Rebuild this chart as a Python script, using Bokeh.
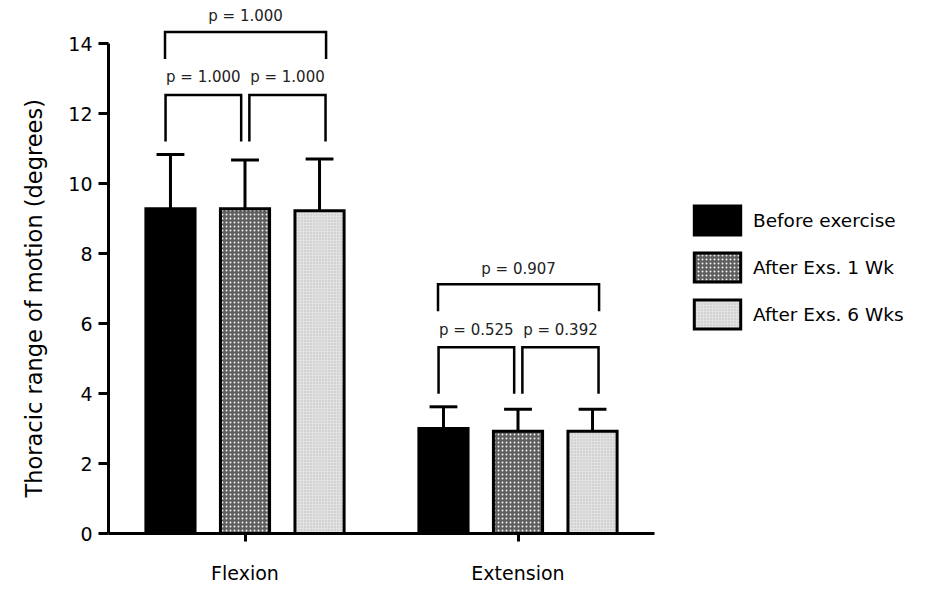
from bokeh.plotting import figure
from bokeh.models import Range1d, FixedTicker, Legend, LegendItem, Title
from bokeh.core.properties import value
from bokeh.embed import file_html
from bokeh.resources import INLINE

# ---- data -------------------------------------------------------------
groups = ["Flexion", "Extension"]
series = ["Before exercise", "After Exs. 1 Wk", "After Exs. 6 Wks"]

before_mean = [9.28, 3.00]
wk1_mean = [9.28, 2.92]
wk6_mean = [9.22, 2.92]

before_sd = [1.55, 0.62]
wk1_sd = [1.39, 0.63]
wk6_sd = [1.48, 0.63]

# p-values for the comparisons (before vs 1 wk, 1 wk vs 6 wks, before vs 6 wks)
p_flexion = ["1.000", "1.000", "1.000"]
p_extension = ["0.525", "0.392", "0.907"]

means = [before_mean, wk1_mean, wk6_mean]
sds = [before_sd, wk1_sd, wk6_sd]
pvals = [p_flexion, p_extension]

# ---- styling ----------------------------------------------------------
FONT = "DejaVu Sans"
OFFSETS = [-0.273, 0.0, 0.273]
BAR_W = 0.18
CAP_HALF = 0.051

fills = [
    dict(fill_color="black"),
    dict(fill_color="#5e5e5e", hatch_pattern="dot", hatch_color="white",
         hatch_scale=4, hatch_weight=1, hatch_alpha=0.9),
    dict(fill_color="#e2e2e2", hatch_pattern="dot", hatch_color="#b0b0b0",
         hatch_scale=3, hatch_weight=1, hatch_alpha=0.8),
]

FRAME_W, FRAME_H = 812, 528
PX_X, PX_Y = 273, 35          # pixels per data unit

p = figure(
    width=925, height=590,
    frame_width=FRAME_W, frame_height=FRAME_H,
    min_border_left=108, min_border_right=5, min_border_top=5, min_border_bottom=57,
    x_range=Range1d(0.5, 0.5 + FRAME_W / PX_X),
    y_range=Range1d(0, FRAME_H / PX_Y),
    output_backend="svg", toolbar_location=None,
)
p.outline_line_color = None
p.grid.visible = False
p.background_fill_color = "white"

# ---- bars + error bars ------------------------------------------------
group_x = [i + 1 for i in range(len(groups))]
renderers = []
for s, (m, sd, style) in enumerate(zip(means, sds, fills)):
    xs = [g + OFFSETS[s] for g in group_x]
    tops = [mi + si for mi, si in zip(m, sd)]
    p.segment(x0=xs, y0=m, x1=xs, y1=tops, line_color="black", line_width=3)
    p.segment(x0=[x - CAP_HALF for x in xs], y0=tops,
              x1=[x + CAP_HALF for x in xs], y1=tops,
              line_color="black", line_width=3)
    r = p.vbar(x=xs, top=m, bottom=0, width=BAR_W,
               line_color="black", line_width=3, line_join="miter", **style)
    renderers.append(r)

# ---- significance brackets ----------------------------------------------
bx, by, lx, ly, lt = [], [], [], [], []
for g, gx in enumerate(group_x):
    xs = [gx + o for o in OFFSETS]
    base = max(m[g] + sd[g] for m, sd in zip(means, sds))
    spans = [
        (xs[0] - 0.018, xs[1] - 0.014, base + 0.37, base + 1.70, base + 2.20),
        (xs[1] + 0.016, xs[2] + 0.022, base + 0.37, base + 1.70, base + 2.20),
        (xs[0] - 0.02, xs[2] + 0.024, base + 2.73, base + 3.50, base + 3.95),
    ]
    for (xa, xb, y_leg, y_top, y_lab), txt in zip(spans, pvals[g]):
        bx.append([xa, xa, xb, xb])
        by.append([y_leg, y_top, y_top, y_leg])
        lx.append((xa + xb) / 2)
        ly.append(y_lab)
        lt.append("p = " + txt)

p.multi_line(xs=bx, ys=by, line_color="black", line_width=2.5, line_join="miter")
p.text(x=lx, y=ly, text=lt, text_align="center", text_baseline="middle",
       text_font=value(FONT), text_font_size="15px", text_color="#222222")

# ---- axes -------------------------------------------------------------
xa = p.xaxis[0]
xa.bounds = (0.5, 2.5)
xa.ticker = FixedTicker(ticks=group_x)
xa.major_label_overrides = {x: g for x, g in zip(group_x, groups)}
xa.axis_line_width = 3
xa.major_tick_line_width = 3
xa.major_tick_out = 8
xa.major_tick_in = 0
xa.minor_tick_line_color = None
xa.major_label_standoff = 20
xa.major_label_text_font = FONT
xa.major_label_text_font_size = "19px"
xa.major_label_text_color = "black"

ya = p.yaxis[0]
ya.bounds = (0, 14)
ya.ticker = FixedTicker(ticks=list(range(0, 15, 2)))
ya.axis_line_width = 3
ya.major_tick_line_width = 3
ya.major_tick_out = 10
ya.major_tick_in = 0
ya.minor_tick_line_color = None
ya.major_label_standoff = 6
ya.major_label_text_font = FONT
ya.major_label_text_font_size = "19px"
ya.major_label_text_color = "black"

# value-axis title, starting near the bottom of the 0-14 span
p.add_layout(Title(
    text="Thoracic range of motion (degrees)", align="left", offset=36,
    text_font=FONT, text_font_size="22.5px", text_font_style="normal",
    text_color="black", standoff=37,
), "left")

# ---- legend -----------------------------------------------------------
legend = Legend(
    items=[LegendItem(label=s, renderers=[r]) for s, r in zip(series, renderers)],
    location=(580, 201),
    glyph_width=58, glyph_height=36, label_height=36,
    label_standoff=7, spacing=11, padding=0, margin=0,
    border_line_alpha=0, background_fill_alpha=0,
    label_text_font=FONT, label_text_font_size="18.5px", label_text_color="black",
)
p.add_layout(legend)

open("out.html", "w").write(file_html(p, INLINE))
